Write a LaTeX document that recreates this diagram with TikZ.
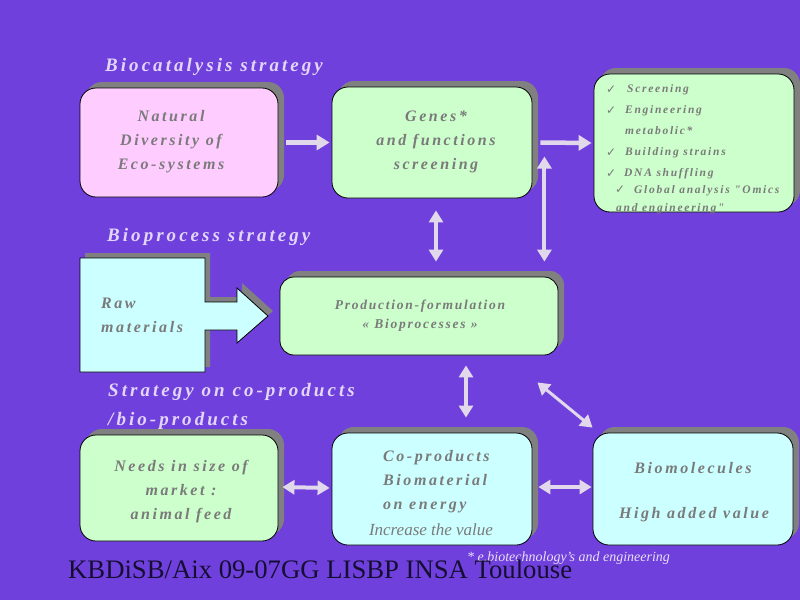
\documentclass[tikz,border=0pt]{standalone}
\usepackage{fontspec}
\setmainfont{Liberation Serif}
\newfontfamily\scrf[LetterSpace=16]{Liberation Serif}
\newfontfamily\scrp[LetterSpace=13]{Liberation Serif}
\newfontfamily\scrl[LetterSpace=15]{Liberation Serif}
\newfontfamily\symf{DejaVu Sans}
\usetikzlibrary{shadows,arrows.meta,calc}
\definecolor{bg}{RGB}{112,64,220}
\definecolor{pinkf}{RGB}{255,204,255}
\definecolor{greenf}{RGB}{204,255,204}
\definecolor{cyanf}{RGB}{204,255,255}
\definecolor{shad}{RGB}{128,128,128}
\definecolor{txtg}{RGB}{122,122,122}
\definecolor{arrc}{RGB}{226,216,236}
\definecolor{headc}{RGB}{226,214,250}
\definecolor{footc}{RGB}{20,14,50}
\definecolor{notec}{RGB}{232,224,246}
\begin{document}
\begin{tikzpicture}[x=1pt,y=-1pt,
  box/.style={draw=black, line width=0.8pt, rounded corners=16pt, inner sep=0pt,
    copy shadow={shadow xshift=6pt, shadow yshift=6pt, fill=shad, draw=none}},
  boxtext/.style={text=txtg, inner sep=0pt, align=center,
    font=\scrf\bfseries\itshape\fontsize{16}{24}\selectfont},
  listtext/.style={text=txtg, inner sep=0pt, anchor=base west,
    font=\scrl\bfseries\itshape\fontsize{11.5}{13}\selectfont},
  tick/.style={text=txtg, inner sep=0pt, anchor=base west,
    font=\symf\bfseries\fontsize{12}{14}\selectfont},
  head/.style={text=headc, inner sep=0pt, anchor=base west,
    font=\scrf\bfseries\itshape\fontsize{19}{22}\selectfont},
  barrow/.style={draw=arrc, line width=4.5pt, -{Triangle[width=15pt,length=13pt]}},
  dbarrow/.style={draw=arrc, line width=4pt,
    {Triangle[width=14pt,length=12pt]}-{Triangle[width=14pt,length=12pt]}},
]
\useasboundingbox (0,0) rectangle (800,600);
\fill[bg] (0,0) rectangle (800,600);

% headings
\node[head] (h1) at (105,71) {Biocatalysis strategy};
\node[head] (h2) at (107,241) {Bioprocess strategy};
\node[head] (h3) at (108,396) {Strategy on co-products};
\node[head] (h4) at (108,425) {/bio-products};

% boxes
\node[box, fill=pinkf, minimum width=198pt, minimum height=109pt] (nat) at (179,142.5) {};
\node[box, fill=greenf, minimum width=200pt, minimum height=111pt] (gen) at (432,142.5) {};
\node[box, fill=greenf, minimum width=200pt, minimum height=138pt] (scr) at (694,143) {};
\node[box, fill=greenf, minimum width=278pt, minimum height=78pt, rounded corners=14pt] (prod) at (419,316) {};
\node[box, fill=greenf, minimum width=198pt, minimum height=106pt] (needs) at (179,488) {};
\node[box, fill=cyanf, minimum width=200pt, minimum height=112pt] (co) at (432,489) {};
\node[box, fill=cyanf, minimum width=200pt, minimum height=112pt] (bio) at (693,489) {};

% raw materials box-arrow
\fill[shad, shift={(5,-5)}] (80,258) -- (205,258) -- (205,302) -- (237,302) -- (237,288)
  -- (268,316) -- (237,343) -- (237,330) -- (205,330) -- (205,372) -- (80,372) -- cycle;
\draw[fill=cyanf, line width=0.8pt] (80,258) -- (205,258) -- (205,302) -- (237,302) -- (237,288)
  -- (268,316) -- (237,343) -- (237,330) -- (205,330) -- (205,372) -- (80,372) -- cycle;
\coordinate (raw) at (142,315);

% box texts
\node[boxtext] (natt) at (171,142) {Natural\\Diversity of\\Eco-systems};
\node[boxtext] (gent) at (436,142) {Genes*\\and functions\\screening};
\node[boxtext, align=left, anchor=west] (rawt) at (101,315) {Raw\\materials};
\node[boxtext, font=\scrp\bfseries\itshape\fontsize{13.5}{19}\selectfont] (prodt) at (420,316) {Production-formulation\\« Bioprocesses »};
\node[boxtext] (needst) at (181,492) {Needs in size of\\market :\\animal feed};
\node[boxtext, align=left, anchor=west] (cot) at (383,482) {Co-products\\Biomaterial\\on energy};
\node[text=txtg, inner sep=0pt, font=\itshape\fontsize{17}{18}\selectfont] (incr) at (431,530) {Increase the value};
\node[boxtext] (biot1) at (693,468) {Biomolecules};
\node[boxtext] (biot2) at (694,515) {High added value};

% screening list
\node[tick] (t1) at (606,93) {✓};
\node[listtext] (l1) at (627,92) {Screening};
\node[tick] (t2) at (606,114) {✓};
\node[listtext] (l2) at (625,113) {Engineering};
\node[listtext] (l3) at (625,134) {metabolic*};
\node[tick] (t4) at (606,156) {✓};
\node[listtext] (l4) at (625,155) {Building strains};
\node[tick] (t5) at (606,177) {✓};
\node[listtext] (l5) at (624,176) {DNA shuffling};
\node[tick] (t6) at (615,193) {✓};
\node[listtext] (l6) at (634,193) {Global analysis "Omics};
\node[listtext] (l7) at (616,211) {and engineering"};

% arrows
\draw[barrow] ($(nat.east)+(8,0)$) -- ($(gen.west)+(-2,0)$);
\draw[barrow] ($(gen.east)+(8,0)$) -- ($(scr.west)+(-2,0)$);
\draw[dbarrow] ($(gen.south)+(4,12)$) -- ($(prod.north)+(17,-15)$);
\draw[dbarrow] ($(gen.east)+(12,14)$) -- ($(prod.north east)+(-14,-15)$);
\draw[dbarrow] ($(prod.south)+(47,10)$) -- ($(co.north)+(34,-15)$);
\draw[dbarrow, line width=3pt] ($(prod.south east)+(-21,27)$) -- ($(bio.north west)+(0,-5)$);
\draw[dbarrow] ($(needs.east)+(4,-1)$) -- ($(co.west)+(-2,-1)$);
\draw[dbarrow] ($(co.east)+(6,-2)$) -- ($(bio.west)+(-1,-2)$);

% footer
\node[anchor=base west, inner sep=0pt, text=notec, font=\itshape\fontsize{14}{15}\selectfont] (note) at (467,561) {* e.biotechnology's and engineering};
\node[anchor=base west, inner sep=0pt, text=footc, font=\fontsize{26.7}{30}\selectfont] (foot) at (68,578) {KBDiSB/Aix 09-07GG LISBP INSA Toulouse};
\end{tikzpicture}
\end{document}
